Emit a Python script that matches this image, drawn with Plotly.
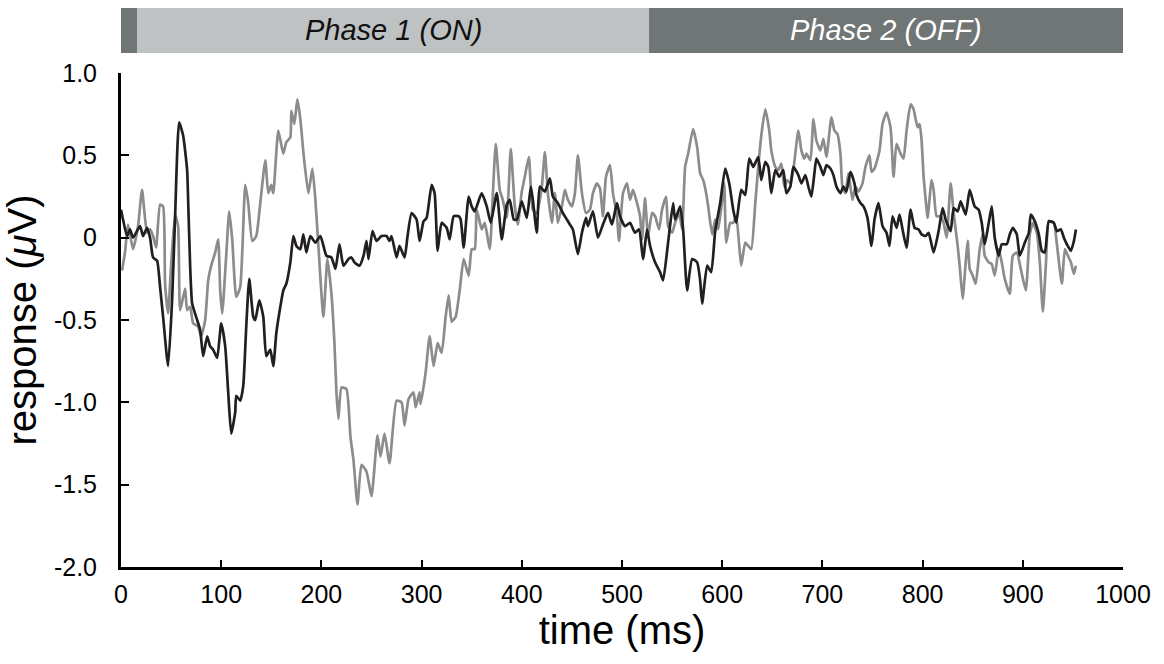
import plotly.graph_objects as go

# ---- data ----
black_t = [0, 2, 6, 9, 12, 19, 22, 26, 29, 32, 36, 39, 42, 47, 51, 54, 58, 62, 66, 67, 69, 71, 76, 79, 82, 86, 89, 92, 96,
           100, 104, 107, 110, 114, 115, 119, 122, 125, 128, 132, 134, 138, 142, 145, 149, 152, 155, 159, 162, 165, 169,
           172, 175, 179, 182, 185, 189, 194, 199, 205, 210, 214, 218, 222, 227, 230, 233, 238, 242, 245, 247, 251, 255,
           260, 265, 268, 270, 275, 278, 283, 286, 290, 295, 298, 302, 305, 310, 313, 316, 320, 325, 328, 332, 337, 339,
           342, 347, 350, 353, 360, 365, 369, 375, 380, 385, 388, 392, 395, 400, 405, 409, 411, 415, 418, 423, 428, 431,
           436, 441, 445, 448, 451, 456, 460, 464, 466, 471, 476, 481, 486, 490, 495, 498, 503, 508, 513, 517, 521, 525,
           528, 533, 538, 541, 546, 551, 553, 558, 561, 565, 570, 575, 578, 580, 585, 589, 593, 598, 603, 607, 611, 614,
           619, 623, 627, 631, 636, 639, 643, 646, 649, 653, 657, 661, 664, 668, 671, 676, 679, 683, 686, 689, 692, 694,
           698, 701, 704, 708, 711, 714, 718, 721, 724, 728, 732, 734, 738, 741, 745, 749, 752, 756, 760, 764, 767, 770,
           774, 777, 780, 784, 788, 792, 796, 799, 803, 806, 811, 816, 820, 823, 828, 831, 835, 838, 843, 847, 852, 856,
           859, 862, 866, 869, 872, 876, 879, 884, 887, 890, 894, 897, 902, 906, 908, 912, 916, 919, 922, 926, 931, 934,
           938, 941, 944, 948, 951, 953]
black_v = [0.17, 0.11, 0.01, 0.05, 0.00, 0.07, 0.01, 0.06, 0.00, -0.12, -0.14, -0.30, -0.48, -0.78, -0.38, 0.13, 0.70,
           0.62, 0.41, 0.23, -0.17, -0.40, -0.50, -0.56, -0.72, -0.60, -0.66, -0.68, -0.73, -0.52, -0.66, -0.94, -1.19,
           -1.06, -0.96, -0.99, -0.90, -0.54, -0.25, -0.48, -0.50, -0.38, -0.48, -0.72, -0.68, -0.78, -0.58, -0.42,
           -0.32, -0.28, -0.15, 0.01, -0.05, -0.07, 0.02, -0.09, 0.01, -0.03, 0.01, -0.11, -0.12, -0.19, -0.04, -0.17,
           -0.13, -0.12, -0.15, -0.17, -0.11, -0.02, -0.13, 0.04, -0.02, 0.01, 0.01, -0.02, 0.01, -0.12, -0.05, -0.12,
           0.01, 0.15, 0.11, -0.02, 0.10, 0.12, 0.32, 0.27, -0.08, 0.09, 0.06, -0.01, 0.13, 0.13, 0.11, -0.06, 0.25,
           0.19, 0.16, 0.27, 0.19, 0.09, 0.27, -0.01, 0.20, 0.23, 0.11, 0.11, 0.22, 0.12, 0.31, 0.23, 0.03, 0.31, 0.28,
           0.36, 0.25, 0.21, 0.15, 0.11, 0.08, 0.05, -0.10, 0.03, 0.12, 0.07, 0.16, 0.00, 0.08, 0.15, 0.08, 0.21, 0.13,
           0.07, 0.09, 0.03, 0.05, -0.13, 0.05, -0.05, -0.15, -0.21, -0.26, -0.03, 0.21, 0.11, 0.19, 0.05, -0.32, -0.13,
           -0.15, -0.26, -0.40, -0.17, -0.21, 0.04, 0.21, 0.42, 0.33, 0.17, 0.09, 0.29, 0.26, 0.48, 0.43, 0.49, 0.35,
           0.46, 0.43, 0.27, 0.41, 0.37, 0.41, 0.27, 0.31, 0.43, 0.38, 0.33, 0.38, 0.31, 0.25, 0.39, 0.48, 0.43, 0.38,
           0.44, 0.42, 0.38, 0.31, 0.27, 0.31, 0.28, 0.40, 0.33, 0.26, 0.21, 0.19, 0.12, -0.05, 0.11, 0.21, 0.07, 0.03,
           -0.05, 0.13, 0.06, 0.14, 0.05, -0.06, 0.17, 0.06, 0.05, 0.02, 0.01, 0.03, -0.09, 0.04, 0.18, 0.11, 0.04,
           0.18, 0.16, 0.22, 0.14, 0.29, 0.19, 0.17, 0.09, -0.04, 0.09, 0.19, 0.00, -0.11, -0.04, -0.04, 0.02, 0.06,
           0.02, -0.11, -0.03, 0.03, 0.14, 0.10, 0.02, -0.08, -0.09, 0.10, 0.09, 0.04, 0.05, 0.00, -0.04, -0.08, -0.02,
           0.05]

gray_t = [1, 4, 7, 12, 17, 21, 26, 29, 32, 35, 39, 42, 44, 47, 50, 54, 57, 59, 64, 66, 69, 72, 77, 80, 84, 87, 90, 94,
          97, 99, 101, 105, 108, 111, 115, 119, 124, 127, 131, 135, 139, 144, 147, 150, 152, 157, 162, 165, 169, 170,
          173, 176, 179, 182, 187, 191, 194, 197, 202, 206, 210, 213, 215, 217, 220, 225, 229, 232, 236, 240, 245, 250,
          256, 259, 263, 268, 275, 280, 283, 287, 292, 294, 298, 299, 304, 308, 312, 316, 320, 324, 327, 330, 334, 338,
          342, 347, 350, 353, 355, 360, 363, 368, 371, 374, 378, 381, 385, 389, 393, 396, 400, 403, 407, 411, 415, 420,
          423, 426, 430, 433, 436, 440, 443, 446, 450, 453, 456, 460, 464, 468, 471, 475, 478, 481, 484, 488, 491, 495,
          497, 501, 505, 508, 511, 515, 518, 520, 523, 526, 530, 533, 537, 540, 544, 546, 550, 553, 557, 560, 563, 566,
          571, 575, 578, 581, 584, 586, 590, 593, 596, 600, 602, 604, 608, 611, 614, 617, 619, 623, 626, 629, 633, 636,
          639, 643, 647, 649, 653, 656, 659, 662, 665, 668, 671, 676, 679, 682, 684, 688, 691, 694, 698, 701, 704, 709,
          712, 715, 718, 720, 723, 726, 730, 733, 736, 740, 743, 747, 749, 752, 757, 760, 764, 768, 771, 774, 778, 781,
          784, 788, 791, 795, 797, 799, 801, 804, 805, 809, 811, 814, 818, 821, 824, 828, 831, 835, 837, 840, 843, 845,
          847, 850, 853, 857, 860, 862, 866, 869, 872, 876, 879, 882, 887, 890, 894, 898, 903, 907, 910, 914, 917, 920,
          923, 926, 931, 934, 939, 942, 945, 948, 951, 953]
gray_v = [-0.20, -0.09, 0.08, -0.07, 0.07, 0.29, 0.03, 0.05, 0.01, -0.06, 0.20, 0.19, -0.28, -0.46, -0.17, 0.14, 0.07,
          -0.44, -0.31, -0.44, -0.42, -0.52, -0.54, -0.60, -0.50, -0.26, -0.17, -0.09, -0.01, -0.32, -0.46, -0.11, 0.16,
          -0.01, -0.36, -0.30, 0.32, 0.21, -0.02, 0.01, 0.21, 0.47, 0.27, 0.32, 0.27, 0.65, 0.51, 0.58, 0.61, 0.77, 0.69,
          0.84, 0.72, 0.52, 0.27, 0.42, 0.23, -0.05, -0.48, -0.13, -0.34, -0.64, -0.94, -1.10, -0.91, -0.92, -1.21,
          -1.35, -1.62, -1.38, -1.42, -1.57, -1.20, -1.33, -1.19, -1.37, -0.99, -1.00, -1.14, -0.98, -0.94, -1.03,
          -0.94, -1.01, -0.82, -0.60, -0.78, -0.64, -0.70, -0.48, -0.35, -0.51, -0.48, -0.32, -0.13, -0.23, -0.07,
          -0.07, 0.17, 0.05, 0.09, -0.07, 0.25, 0.57, 0.29, 0.23, 0.12, 0.54, 0.19, 0.08, 0.28, 0.37, 0.49, 0.17, 0.15,
          0.31, 0.52, 0.27, 0.09, 0.27, 0.09, 0.19, 0.29, 0.23, 0.19, 0.27, 0.50, 0.27, 0.15, 0.17, 0.27, 0.33, 0.30,
          0.13, 0.37, 0.44, 0.27, 0.13, -0.02, 0.27, 0.33, 0.23, 0.29, 0.21, 0.13, -0.01, 0.24, 0.01, 0.15, 0.13, 0.05,
          0.17, 0.25, 0.07, 0.03, 0.09, 0.15, 0.05, 0.43, 0.51, 0.66, 0.55, 0.39, 0.35, 0.27, 0.19, 0.02, 0.11, 0.05,
          0.23, 0.33, -0.03, 0.09, 0.09, 0.13, -0.05, -0.17, -0.03, -0.05, -0.07, 0.21, 0.43, 0.62, 0.78, 0.65, 0.53,
          0.43, 0.41, 0.45, 0.31, 0.35, 0.33, 0.41, 0.65, 0.53, 0.48, 0.51, 0.47, 0.72, 0.59, 0.53, 0.60, 0.49, 0.73,
          0.65, 0.63, 0.51, 0.31, 0.27, 0.39, 0.23, 0.31, 0.28, 0.33, 0.43, 0.50, 0.40, 0.42, 0.53, 0.69, 0.76, 0.67,
          0.37, 0.57, 0.51, 0.48, 0.65, 0.81, 0.78, 0.67, 0.69, 0.59, 0.37, 0.17, 0.12, 0.35, 0.29, 0.13, 0.13, 0.09,
          0.00, 0.33, 0.15, -0.05, -0.17, -0.37, -0.15, -0.02, -0.19, -0.23, -0.28, -0.07, 0.02, -0.11, -0.15, -0.16,
          -0.23, -0.07, -0.15, -0.25, -0.34, -0.11, -0.09, -0.19, -0.32, 0.02, 0.09, 0.03, -0.15, -0.45, -0.17, 0.10,
          0.09, -0.04, -0.28, -0.07, -0.11, -0.15, -0.22, -0.17]

phase_names = ["", "<i>Phase 1 (ON)</i>", "<i>Phase 2 (OFF)</i>"]
phase_start = [0, 16, 527]
phase_end = [16, 527, 1000]
phase_colors = ["#707575", "#bfc2c3", "#707575"]
phase_text_colors = ["#ffffff", "#111111", "#ffffff"]

x_ticks = list(range(0, 1001, 100))
y_ticks = [-2.0, -1.5, -1.0, -0.5, 0.0, 0.5, 1.0]
y_tick_text = ["-2.0", "-1.5", "-1.0", "-0.5", "0", "0.5", "1.0"]

FONT = "Liberation Sans, Arial, Helvetica, sans-serif"

fig = go.Figure()
fig.add_trace(go.Scatter(x=gray_t, y=gray_v, mode="lines",
                         line=dict(color="#8c8c8c", width=2.7, shape="spline", smoothing=0.5),
                         showlegend=False, hoverinfo="skip"))
fig.add_trace(go.Scatter(x=black_t, y=black_v, mode="lines",
                         line=dict(color="#231f20", width=2.7, shape="spline", smoothing=0.5),
                         showlegend=False, hoverinfo="skip"))

bar_y0, bar_y1 = 1.0405, 1.1316
for s, e, c, name, tc in zip(phase_start, phase_end, phase_colors, phase_names, phase_text_colors):
    fig.add_shape(type="rect", xref="x", yref="paper", x0=s, x1=e, y0=bar_y0, y1=bar_y1,
                  fillcolor=c, line=dict(width=0), layer="above")
    if name:
        fig.add_annotation(x=(s + e) / 2, y=(bar_y0 + bar_y1) / 2, xref="x", yref="paper",
                           xanchor="center", yanchor="middle",
                           text=name, showarrow=False,
                           font=dict(family=FONT, size=29, color=tc))

fig.update_layout(
    width=1164, height=664,
    margin=dict(l=121, r=41, t=73, b=97),
    paper_bgcolor="white", plot_bgcolor="white",
    font=dict(family=FONT, color="black"),
)
fig.update_xaxes(
    range=[0, 1000], tickvals=x_ticks, ticktext=[str(v) for v in x_ticks],
    showgrid=False, zeroline=False, showline=True, linecolor="black", linewidth=3,
    ticks="inside", ticklen=7, tickwidth=1.5, tickcolor="black",
    tickfont=dict(size=25, family=FONT), ticklabelstandoff=3,
    title=dict(text="time (ms)", font=dict(size=40, family=FONT), standoff=8),
)
fig.update_yaxes(
    range=[-2, 1], tickvals=y_ticks, ticktext=y_tick_text,
    showgrid=False, zeroline=False, showline=True, linecolor="black", linewidth=3,
    ticks="inside", ticklen=8, tickwidth=1.5, tickcolor="black",
    tickfont=dict(size=25, family=FONT), ticklabelstandoff=16,
    title=dict(text="response (<i>μ</i>V)", font=dict(size=40, family=FONT), standoff=6),
)

fig.write_html("out.html")
